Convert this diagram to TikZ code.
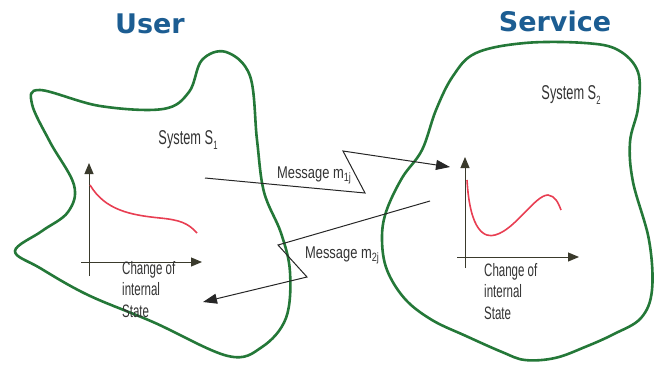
\documentclass[tikz,border=0pt]{standalone}
\usepackage{fontspec}
\setmainfont{Liberation Sans}
\newfontfamily\titlefont{DejaVu Sans}
\newfontfamily\narrowfont[FakeStretch=0.64]{Liberation Sans}
\newfontfamily\msgfont[FakeStretch=0.76]{Liberation Sans}
\usetikzlibrary{arrows.meta}
\definecolor{titleblue}{RGB}{28,93,146}
\definecolor{blobgreen}{RGB}{36,120,56}
\definecolor{curvered}{RGB}{232,62,82}
\definecolor{axisgray}{RGB}{58,58,44}
\newcommand{\sbs}[2]{\raisebox{-#1}{\fontsize{12}{12}\selectfont #2}}
\tikzset{
  title/.style={font=\titlefont\bfseries\fontsize{27}{27}\selectfont, text=titleblue, inner sep=0pt},
  syslabel/.style={font=\narrowfont\fontsize{20}{20}\selectfont, text=black!80, inner sep=0pt},
  msglabel/.style={font=\msgfont\fontsize{17}{17}\selectfont, text=black!80, inner sep=0pt},
  axlabel/.style={font=\narrowfont\fontsize{18}{21.5}\selectfont, text=black!80, align=left, inner sep=0pt, anchor=north west},
  blob/.style={draw=blobgreen, line width=2.6pt},
  axis/.style={draw=axisgray, line width=1pt, -{Triangle[length=11pt,width=9pt]}},
  curve/.style={draw=curvered, line width=1.6pt},
  msg/.style={draw=black!85, line width=1pt, -{Triangle[length=14pt,width=10pt]}}
}
\begin{document}
\begin{tikzpicture}[x=1pt,y=-1pt]
\useasboundingbox (0,0) rectangle (655,370);

% titles
\node[title] (user) at (150,24) {User};
\node[title] (service) at (555,21) {Service};

% system boundaries
\draw[blob] plot[smooth cycle, tension=0.6] coordinates {
  (40,90) (100,106) (163,109) (189,92) (202,60) (226,52) (250,76)
  (257,140) (264,192) (281,233) (290,272) (286,318) (262,347) (228,356)
  (153,322) (88,295) (40,268) (15,251) (42,231) (68,212) (74,185)
  (50,142) (32,104)};
\draw[blob] plot[smooth cycle, tension=0.6] coordinates {
  (525,43) (585,43) (618,50) (638,72) (638,108) (630,142) (633,182)
  (649,240) (652,290) (641,318) (614,334) (585,347) (555,358) (525,360)
  (502,352) (466,336) (432,320) (405,299) (387,270) (382,240) (386,212)
  (402,178) (422,150) (436,110) (453,76) (476,53)};

% system labels
\node[syslabel] (s1) at (188,140) {System S\sbs{5pt}{1}};
\node[syslabel] (s2) at (571,95) {System S\sbs{5pt}{2}};

% left state diagram
\draw[axis] (89,276) -- (89,163);
\draw[axis] (81,262) -- (202,262);
\draw[curve] (90,185) .. controls (105,210) and (130,215) .. (160,218)
  .. controls (180,220) and (188,223) .. (197,233);
\node[axlabel] (c1) at (122,261) {Change of\\internal\\State};

% right state diagram
\draw[axis] (465,268) -- (465,157);
\draw[axis] (457,257) -- (579,257);
\draw[curve] (467,180) .. controls (470,232) and (485,238) .. (495,235)
  .. controls (515,230) and (535,195) .. (548,195)
  .. controls (555,196) and (558,202) .. (561,210);
\node[axlabel] (c2) at (484,263) {Change of\\internal\\State};

% messages
\coordinate (a0) at (205,178);
\coordinate (a1) at (365,193);
\coordinate (a2) at (343,151);
\coordinate (a3) at (450,167);
\draw[msg] (a0) -- (a1) -- (a2) -- (a3);
\node[msglabel] (m1) at (314,175) {Message m\sbs{3pt}{1j}};

\coordinate (b0) at (430,201);
\coordinate (b1) at (278,245);
\coordinate (b2) at (307,277);
\coordinate (b3) at (203,302);
\draw[msg] (b0) -- (b1) -- (b2) -- (b3);
\node[msglabel] (m2) at (342,255) {Message m\sbs{3pt}{2j}};
\end{tikzpicture}
\end{document}
